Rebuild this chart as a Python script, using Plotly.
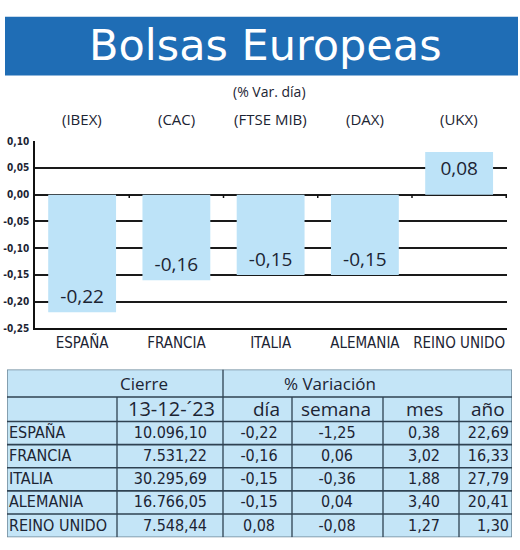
import plotly.graph_objects as go

# ---------------- data ----------------
countries = ["ESPAÑA", "FRANCIA", "ITALIA", "ALEMANIA", "REINO UNIDO"]
indices = ["(IBEX)", "(CAC)", "(FTSE MIB)", "(DAX)", "(UKX)"]
var_dia = [-0.22, -0.16, -0.15, -0.15, 0.08]
cierre = [10096.10, 7531.22, 30295.69, 16766.05, 7548.44]
var_semana = [-1.25, 0.06, -0.36, 0.04, -0.08]
var_mes = [0.38, 3.02, 1.88, 3.40, 1.27]
var_anio = [22.69, 16.33, 27.79, 20.41, 1.30]
y_ticks = [0.10, 0.05, 0.00, -0.05, -0.10, -0.15, -0.20, -0.25]
title = "Bolsas Europeas"
subtitle = "(% Var. día)"
fecha = "13-12-´23"
col_heads = ["día", "semana", "mes", "año"]

# ---------------- style ----------------
W, H = 520, 550
BLUE = "#1f6db5"
BAR = "#bde3f8"
TBL = "#c4e5f7"
LINE = "#2f4252"
INK = "#1c2433"
NARROW = "Liberation Sans Narrow, DejaVu Sans Condensed, Arial Narrow, sans-serif"
SANS = "Open Sans, Lato, sans-serif"


def px(x):
    return x / W


def py(y):
    return 1 - y / H


def es(v, thousands=False):
    s = f"{v:,.2f}" if thousands else f"{v:.2f}"
    return s.replace(",", "_").replace(".", ",").replace("_", ".")


fig = go.Figure()

# bar chart
fig.add_trace(go.Bar(
    x=countries, y=var_dia,
    marker=dict(color=BAR, line=dict(width=0)),
    text=[es(v) for v in var_dia],
    textposition="inside", insidetextanchor="end",
    textfont=dict(family=SANS, size=19, color=INK),
    xaxis="x", yaxis="y", showlegend=False, hoverinfo="skip",
))

# ---------------- table (pixel-space axes) ----------------
T_L, T_R, T_T, T_B = 7, 512, 372, 543
H1, H2 = 400, 425
col_x = [117, 223, 292, 383, 459]
n = len(countries)
row_h = (T_B - H2) / n
row_y = [H2 + row_h * (i + 0.5) + 1 for i in range(n)]

def text_col(x, vals, pos, font=NARROW, size=16):
    fig.add_trace(go.Scatter(
        x=[x] * len(vals), y=row_y[:len(vals)], mode="text", text=vals,
        textposition=pos, textfont=dict(family=font, size=size, color=INK),
        xaxis="x2", yaxis="y2", showlegend=False, hoverinfo="skip", cliponaxis=False,
    ))

text_col(9, countries, "middle right")
text_col(207, [es(v, True) for v in cierre], "middle left")
text_col(259, [es(v) for v in var_dia], "middle center")
text_col(337, [es(v) for v in var_semana], "middle center")
text_col(424, [es(v) for v in var_mes], "middle center")
text_col(509, [es(v) for v in var_anio], "middle left")

shapes = []
shapes.append(dict(type="rect", xref="x2", yref="y2", x0=T_L, x1=T_R, y0=T_T, y1=T_B,
                   fillcolor=TBL, line=dict(color="#6f8797", width=1.5), layer="below"))
for y in [H1, H2] + [H2 + row_h * i for i in range(1, n)]:
    shapes.append(dict(type="line", xref="x2", yref="y2", x0=T_L, x1=T_R, y0=y, y1=y,
                       line=dict(color=LINE, width=1.6), layer="below"))
for x in col_x:
    shapes.append(dict(type="line", xref="x2", yref="y2", x0=x, x1=x,
                       y0=T_T if x == 223 else H1, y1=T_B,
                       line=dict(color=LINE, width=1.3), layer="below"))

# ticks on zero line at category boundaries
for i in range(n):
    shapes.append(dict(type="line", xref="x", yref="y", x0=i + 0.5, x1=i + 0.5,
                       y0=0, y1=-0.006, line=dict(color="#111", width=1.5)))

# title banner
shapes.append(dict(type="rect", xref="paper", yref="paper", x0=px(5), x1=px(518),
                   y0=py(72), y1=py(12), fillcolor=BLUE, line=dict(width=0)))

annotations = []
annotations.append(dict(text=title, x=px(265), y=py(41), xref="paper", yref="paper",
                        showarrow=False, xanchor="center", yanchor="middle",
                        font=dict(family="DejaVu Sans", size=43, color="white")))
annotations.append(dict(text=subtitle, x=px(269), y=py(88), xref="paper", yref="paper",
                        showarrow=False, xanchor="center", yanchor="middle",
                        font=dict(family=SANS, size=14, color=INK)))
for c, lab in zip(countries, indices):
    annotations.append(dict(text=lab, x=c, y=py(116), xref="x", yref="paper",
                            showarrow=False, xanchor="center", yanchor="middle",
                            font=dict(family=SANS, size=15, color=INK)))
# table headers
annotations.append(dict(text="Cierre", x=144, y=386, xref="x2", yref="y2", showarrow=False,
                        font=dict(family=SANS, size=17, color=INK)))
annotations.append(dict(text="% Variación", x=330, y=386, xref="x2", yref="y2", showarrow=False,
                        font=dict(family=SANS, size=17, color=INK)))
annotations.append(dict(text=fecha, x=171, y=412, xref="x2", yref="y2", showarrow=False,
                        font=dict(family=SANS, size=20, color=INK)))
for x, t in zip([266, 336, 424, 488], col_heads):
    annotations.append(dict(text=t, x=x, y=412, xref="x2", yref="y2", showarrow=False,
                            font=dict(family=SANS, size=19, color=INK)))

fig.update_layout(
    width=W, height=H, autosize=False,
    margin=dict(l=0, r=0, t=0, b=0),
    paper_bgcolor="white", plot_bgcolor="white",
    separators=",.",
    bargap=0.28,
    xaxis=dict(domain=[px(35), px(507)], showline=True, linecolor="#111", linewidth=1.5,
               ticks="", showgrid=False, zeroline=False,
               tickfont=dict(family=NARROW, size=15, color=INK), fixedrange=True),
    yaxis=dict(domain=[py(330), py(139)], range=[-0.25, 0.10], showline=True,
               linecolor="#111", linewidth=1.5, ticks="", tickvals=y_ticks,
               ticktext=["<b>" + es(v) + "</b>" for v in y_ticks], showgrid=True,
               gridcolor="#1a1a1a", gridwidth=1.5, zeroline=True, zerolinecolor="#1a1a1a",
               zerolinewidth=1.5, ticklabelstandoff=2,
               tickfont=dict(family=NARROW, size=10, color=INK), fixedrange=True),
    xaxis2=dict(domain=[px(T_L), px(T_R)], range=[T_L, T_R], visible=False, fixedrange=True,
                anchor="y2"),
    yaxis2=dict(domain=[py(T_B), py(T_T)], range=[T_B, T_T], visible=False, fixedrange=True,
                anchor="x2"),
    shapes=shapes, annotations=annotations,
)

fig.write_html("out.html", config={"displayModeBar": False},
               post_script="document.body.style.margin='0';document.body.style.overflow='hidden';")
